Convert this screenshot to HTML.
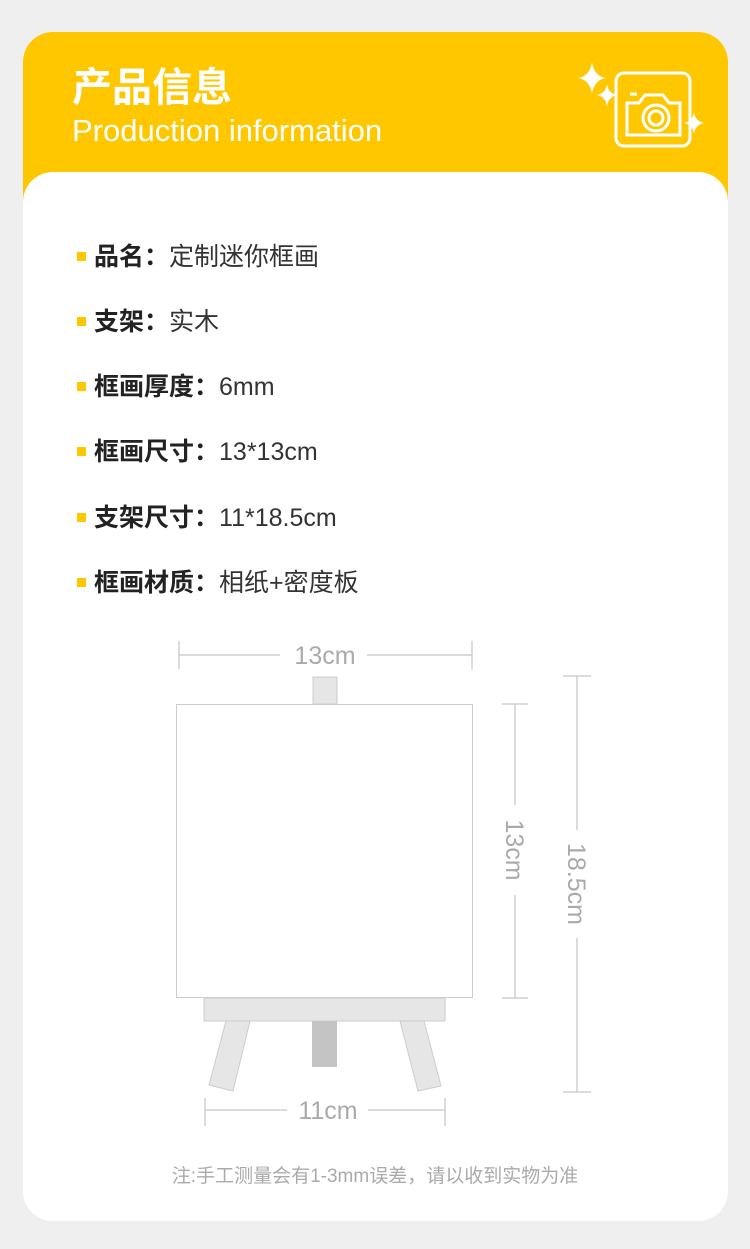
<!DOCTYPE html>
<html><head><meta charset="utf-8"><style>
body{margin:0;width:750px;height:1249px;background:#efefef;position:relative;overflow:hidden;font-family:"Liberation Sans","Noto Sans CJK SC",sans-serif}
.card{position:absolute;left:23px;top:32px;width:705px;height:1189px;background:#fff;border-radius:30px;overflow:hidden}
.yel{position:absolute;left:0;top:0;width:705px;height:175px;background:#ffc700}
.wh{position:absolute;left:0;top:140px;width:705px;height:1100px;background:#fff;border-radius:30px}
.t1{position:absolute;left:72px;top:63px;color:#fff;font-size:40px;font-weight:bold;line-height:50px;letter-spacing:0px}
.t2{position:absolute;left:72px;top:112px;color:#fff;font-size:31px;line-height:38px}
.row{position:absolute;left:77px;font-size:25px;color:#333;line-height:30px;white-space:nowrap}
.row b{font-weight:bold;color:#222}
.row i{display:inline-block;width:9px;height:9px;background:#ffc700;margin-right:8px;vertical-align:4px}
.note{position:absolute;left:0;width:750px;text-align:center;top:1161px;font-size:19px;color:#aaa}
</style></head><body>
<div class="card"><div class="yel"></div><div class="wh"></div></div>
<div class="t1">产品信息</div>
<div class="t2">Production information</div>
<svg style="position:absolute;left:0;top:0" width="750" height="200">
<g fill="#fff">
<path d="M592 62 Q594 76 606 78 Q594 80 592 94 Q590 80 578 78 Q590 76 592 62Z"/>
<path d="M607 84 Q608 93 617 95 Q608 97 607 107 Q606 97 597 95 Q606 93 607 84Z"/>
<path d="M694 112 Q695 121 704 123 Q695 125 694 134 Q693 125 684 123 Q693 121 694 112Z"/>
</g>
<g fill="none" stroke="#fff" stroke-width="3">
<rect x="616" y="73" width="74" height="73" rx="8"/>
<path d="M627 103 h12 l6 -8 h18 l6 8 h11 v32 h-53z"/>
<circle cx="656" cy="118" r="13"/><circle cx="656" cy="118" r="7"/>
<line x1="630" y1="94" x2="637" y2="94"/>
</g>
</svg>
<div class="row" style="top:242px"><i></i><b>品名：</b>定制迷你框画</div>
<div class="row" style="top:307px"><i></i><b>支架：</b>实木</div>
<div class="row" style="top:372px"><i></i><b>框画厚度：</b>6mm</div>
<div class="row" style="top:437px"><i></i><b>框画尺寸：</b>13*13cm</div>
<div class="row" style="top:503px"><i></i><b>支架尺寸：</b>11*18.5cm</div>
<div class="row" style="top:568px"><i></i><b>框画材质：</b>相纸+密度板</div>
<svg style="position:absolute;left:0;top:0" width="750" height="1249">
<g stroke="#c8c8c8" stroke-width="1.3" fill="none">
<line x1="179" y1="655" x2="280" y2="655"/><line x1="367" y1="655" x2="472" y2="655"/>
<line x1="179" y1="641" x2="179" y2="669"/><line x1="472" y1="641" x2="472" y2="669"/>
<line x1="205" y1="1110" x2="287" y2="1110"/><line x1="368" y1="1110" x2="445" y2="1110"/>
<line x1="205" y1="1098" x2="205" y2="1126"/><line x1="445" y1="1098" x2="445" y2="1126"/>
<line x1="515" y1="704" x2="515" y2="805"/><line x1="515" y1="895" x2="515" y2="998"/>
<line x1="502" y1="704" x2="528" y2="704"/><line x1="502" y1="998" x2="528" y2="998"/>
<line x1="577" y1="676" x2="577" y2="830"/><line x1="577" y1="938" x2="577" y2="1092"/>
<line x1="563" y1="676" x2="591" y2="676"/><line x1="563" y1="1092" x2="591" y2="1092"/>
</g>
<g stroke="#ccc" stroke-width="1">
<rect x="313" y="677" width="24" height="27" fill="#e6e6e6"/>
<rect x="176.5" y="704.5" width="296" height="293" fill="#fff"/>
<polygon points="226,1021 250,1021 233,1091 209,1085" fill="#e6e6e6"/>
<polygon points="400,1021 424,1021 441,1086 418,1091" fill="#e6e6e6"/>
<rect x="204" y="998" width="241" height="23" fill="#e6e6e6"/>
</g>
<rect x="312" y="1021" width="25" height="46" fill="#c4c4c4"/>
<g fill="#aaa" font-family="Liberation Sans,sans-serif" font-size="25" text-anchor="middle">
<text x="325" y="664">13cm</text>
<text x="328" y="1119">11cm</text>
<text transform="translate(506,850) rotate(90)">13cm</text>
<text transform="translate(568,884) rotate(90)">18.5cm</text>
</g>
</svg>
<div class="note">注:手工测量会有1-3mm误差，请以收到实物为准</div>
</body></html>
